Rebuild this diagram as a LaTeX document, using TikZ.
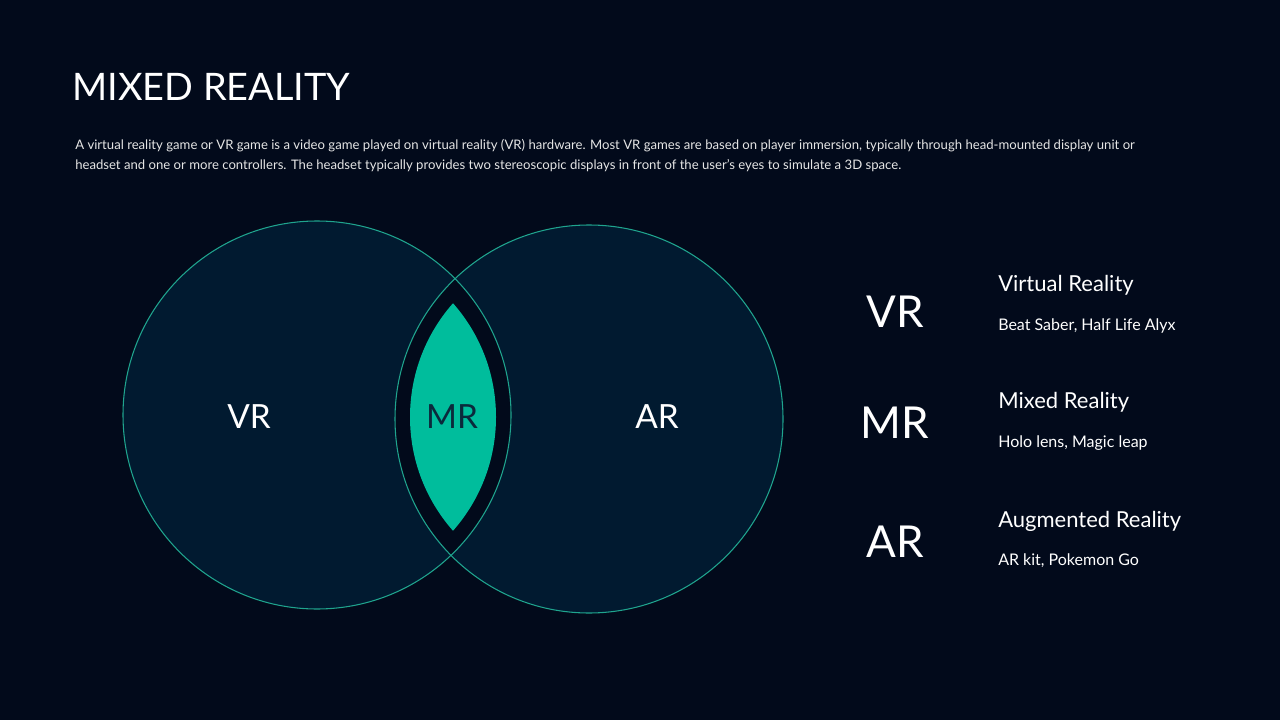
\documentclass[tikz,border=0pt]{standalone}
\usepackage{fontspec}
\setmainfont{Lato}
\usepackage{tikz}
\definecolor{bg}{HTML}{020A1B}
\definecolor{disc}{HTML}{011A30}
\definecolor{rim}{HTML}{1FA48E}
\definecolor{mint}{HTML}{00BD9C}
\definecolor{ink}{HTML}{0B2A3C}

\begin{document}
\begin{tikzpicture}[x=0.75pt,y=-0.75pt,
  txt/.style={text=white,inner sep=0pt,anchor=base west},
  tag/.style={text=white,inner sep=0pt,anchor=base}]
                      \fill[bg](0,0)rectangle(1280,720);
                      \useasboundingbox(0,0)rectangle(1280,720);
                      \node[txt,font=\fontsize{28.4}{34}\selectfont](title)at(72,101){MIXED REALITY};
                      \node[txt,text=white!90!black,font=\fontsize{9.85}{12}\selectfont](introa)at(75,150){A virtual reality game or VR game is a video game played on virtual reality (VR) hardware. Most VR games are based on player immersion, typically through head-mounted display unit or};
                      \node[txt,text=white!90!black,font=\fontsize{9.85}{12}\selectfont](introb)at(75,170){headset and one or more controllers. The headset typically provides two stereoscopic displays in front of the user's eyes to simulate a 3D space.};
                      % the two discs
                      \fill[disc](317,415)circle[radius=194];
                      \fill[disc](589,419)circle[radius=194];
                      \begin{scope}
                      \clip(317,415)circle[radius=194];
                      \fill[bg](589,419)circle[radius=194];
                      \end{scope}
                      \draw[rim,line width=0.8pt](317,415)circle[radius=194];
                      \draw[rim,line width=0.8pt](589,419)circle[radius=194];
                      \begin{scope}
                      \clip(324,417)circle[radius=172];
                      \fill[mint](582,417)circle[radius=172];
                      \end{scope}
                      \node[tag,font=\fontsize{25}{30}\selectfont](vr)at(249,428){VR};
                      \node[tag,text=ink,font=\fontsize{25}{30}\selectfont](mr)at(452,428){MR};
                      \node[tag,font=\fontsize{25}{30}\selectfont](ar)at(657,428){AR};
                      % legend on the right
                      \foreach \ab/\nm/\ex/\yb/\yh/\ys in {VR/Virtual Reality/{Beat Saber, Half Life Alyx}/327/291/330,MR/Mixed Reality/{Holo lens, Magic leap}/438/408/447,AR/Augmented Reality/{AR kit, Pokemon Go}/557/527/565}{
                      \node[tag,font=\fontsize{33}{40}\selectfont](big\ab)at(895,\yb){\ab};
                      \node[txt,font=\fontsize{16.5}{20}\selectfont](head\ab)at(998,\yh){\nm};
                      \node[txt,font=\fontsize{12}{15}\selectfont](sub\ab)at(998,\ys){\ex};
                      }
                  \end{tikzpicture}
\end{document}
